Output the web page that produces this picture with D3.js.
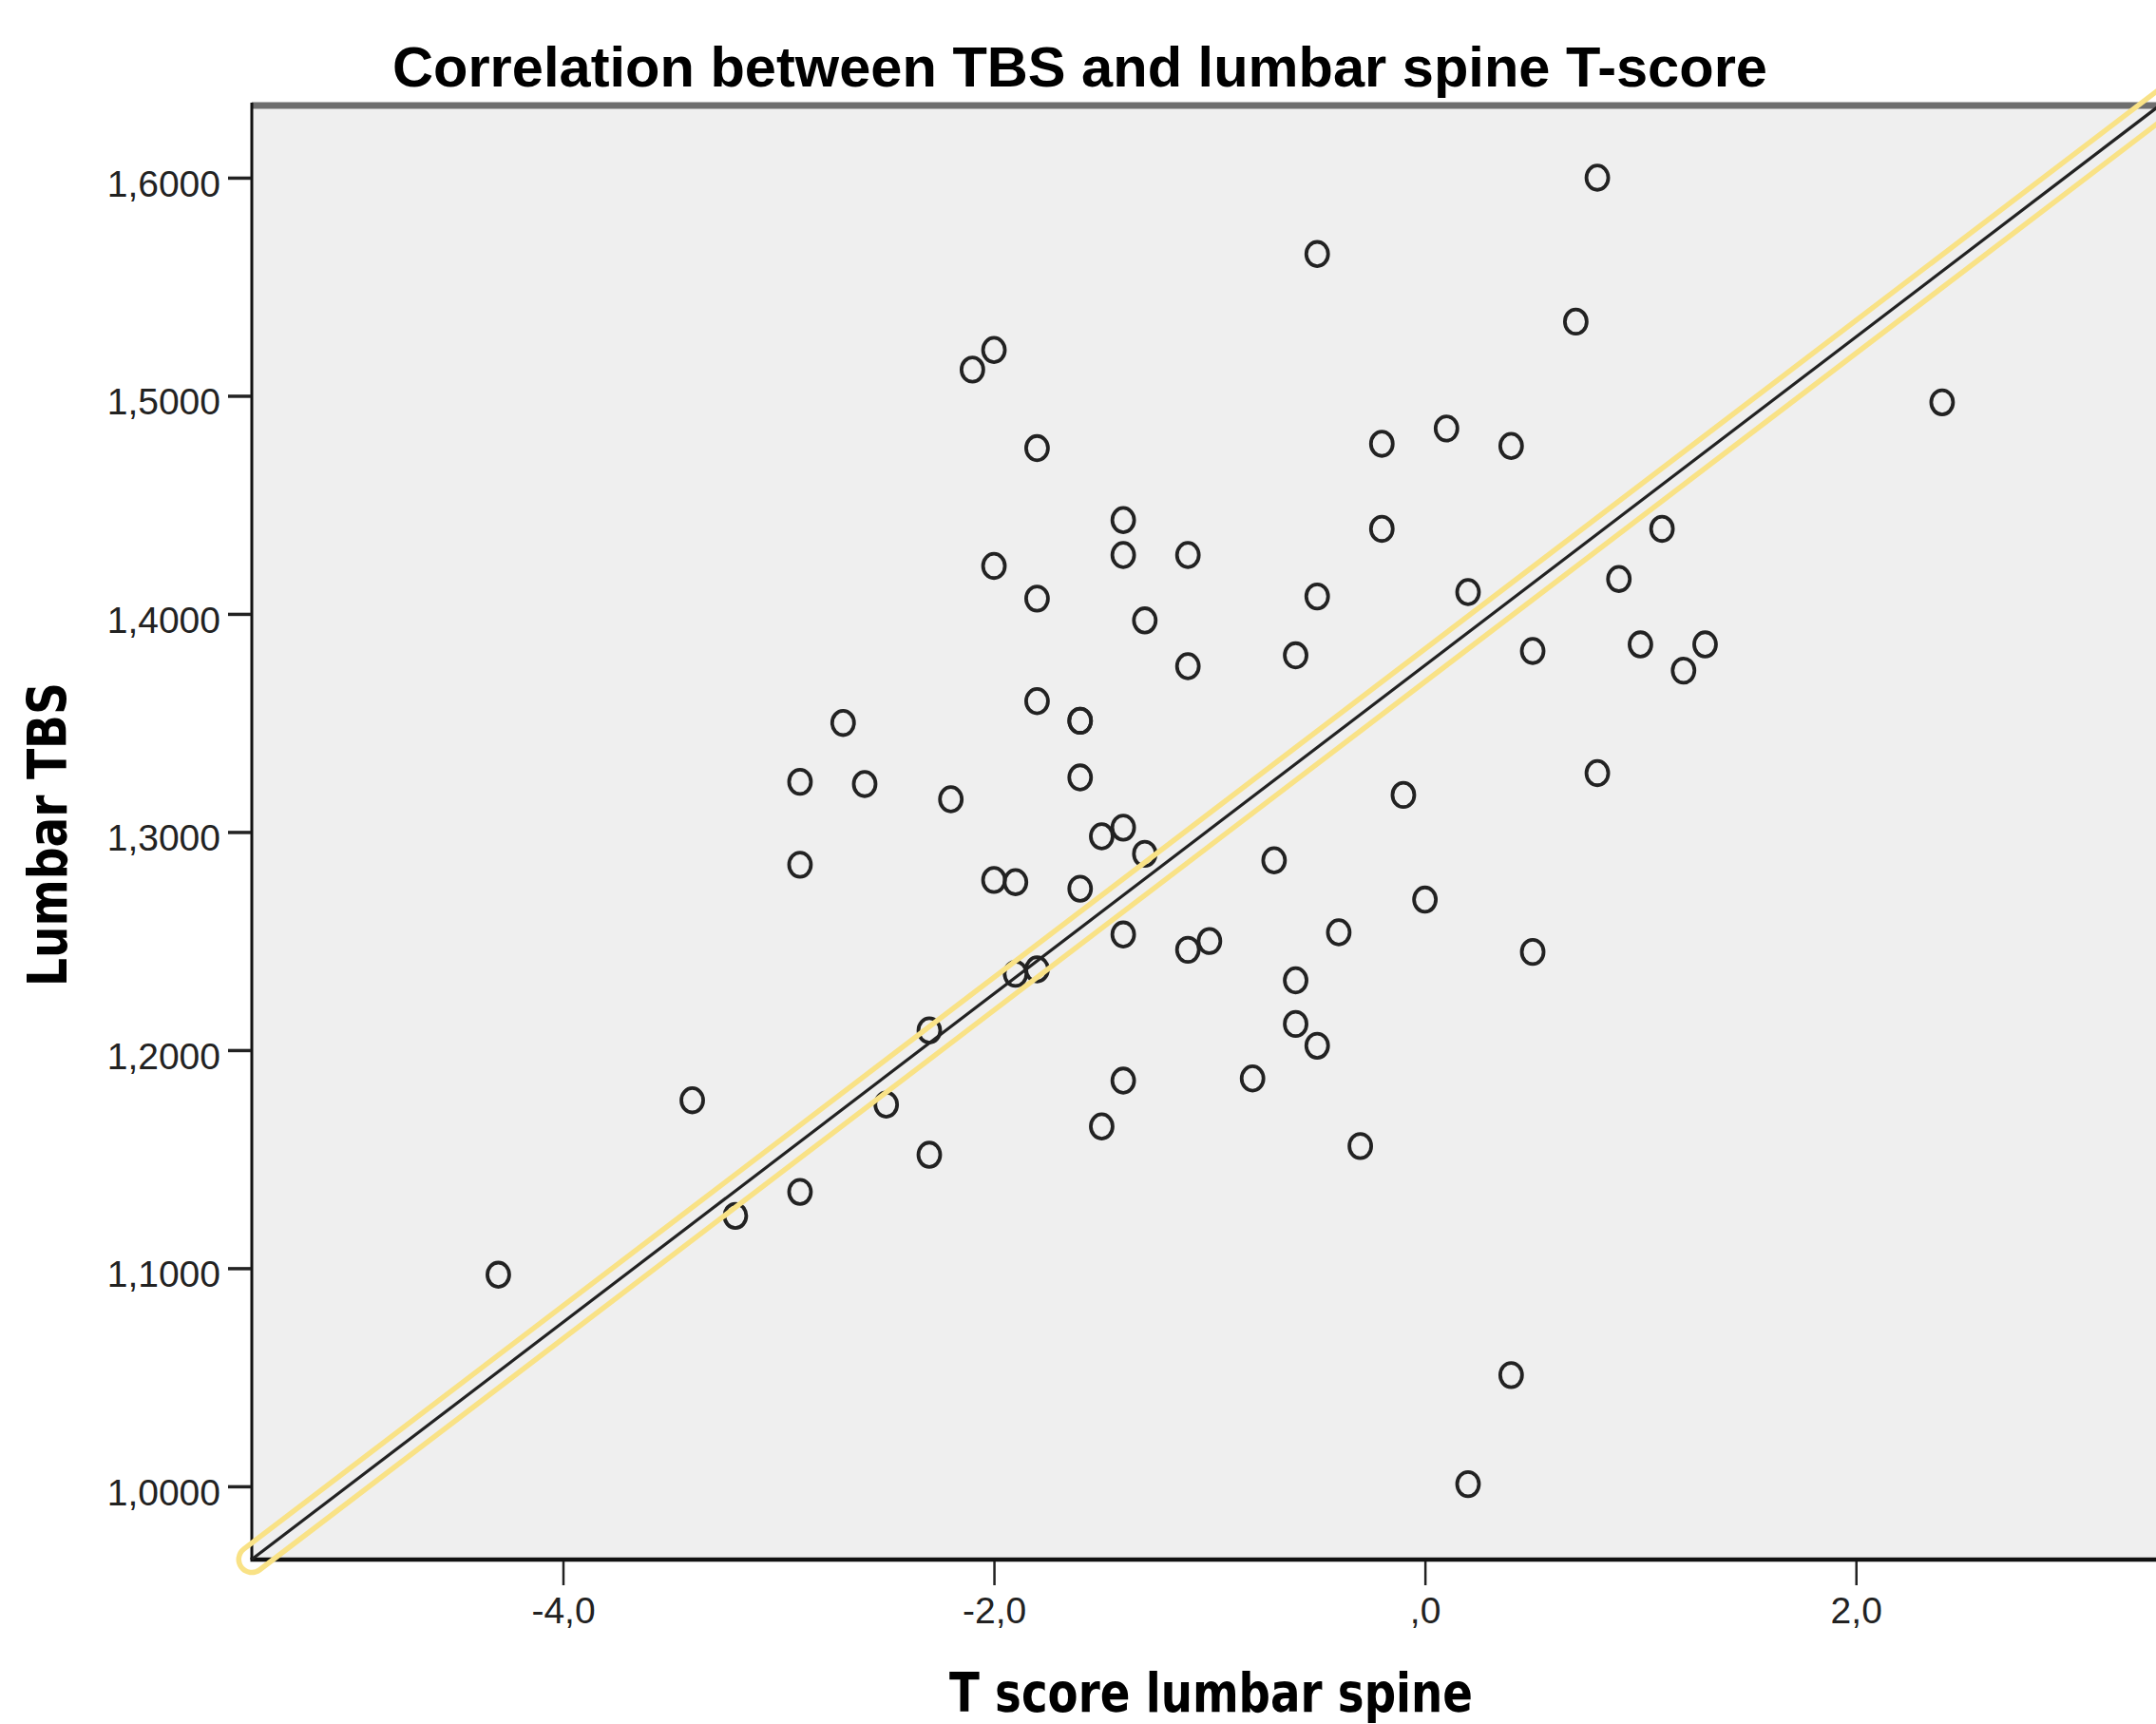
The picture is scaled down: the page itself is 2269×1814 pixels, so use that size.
<!DOCTYPE html>
<html lang="en">
<head>
<meta charset="utf-8">
<title>Correlation between TBS and lumbar spine T-score</title>
<script src="https://cdnjs.cloudflare.com/ajax/libs/d3/7.8.5/d3.min.js"></script>
<style>
  body { margin: 0; background: #fff; }
  svg { display: block; }
  .tick text { font-family: "Liberation Sans", Arial, sans-serif; font-size: 39px; fill: #222; }
  .title { font-family: "Liberation Sans", Arial, sans-serif; font-weight: bold; font-size: 60px; fill: #000; }
  .axTitle { font-family: "DejaVu Sans", sans-serif; font-weight: bold; font-size: 57px; fill: #000; }
</style>
</head>
<body>
<script>
// T score lumbar spine
var tScore = [0.8, -0.5, 0.7, -2.0, -2.1, 2.4, 0.1, -0.2, 0.4, -1.8,
              -1.4, -0.2, 1.1, -1.4, -1.1, -2.0, 0.9, -1.8, -0.5, 0.2,
              -1.3, 1.0, 1.3, 0.5, -0.6, -1.1, 1.2, -1.8, -2.7, -1.6,
              -1.6, 0.8, -1.6, -2.9, -2.6, -2.2, -0.1, -1.4, -1.5, -1.3,
              -0.7, -2.9, -2.0, -1.9, -1.6, 0.0, -0.4, -1.4, -1.0, -1.1,
              0.5, -1.9, -1.8, -0.6, -0.6, -2.3, -0.5, -0.8, -1.4, -3.4,
              -2.5, -1.5, -0.3, -2.3, -2.9, -3.2, -4.3, 0.4, 0.2];
// Lumbar TBS
var tbs = [1.600, 1.565, 1.534, 1.521, 1.512, 1.497, 1.485, 1.478, 1.477, 1.476,
           1.443, 1.439, 1.439, 1.427, 1.427, 1.422, 1.416, 1.407, 1.408, 1.410,
           1.397, 1.386, 1.386, 1.383, 1.381, 1.376, 1.374, 1.360, 1.350, 1.351,
           1.351, 1.327, 1.325, 1.323, 1.322, 1.315, 1.317, 1.302, 1.298, 1.290,
           1.287, 1.285, 1.278, 1.277, 1.274, 1.269, 1.254, 1.253, 1.250, 1.246,
           1.245, 1.235, 1.237, 1.232, 1.212, 1.209, 1.202, 1.187, 1.186, 1.177,
           1.175, 1.165, 1.156, 1.152, 1.135, 1.124, 1.097, 1.051, 1.001];

var xTicks = [-4, -2, 0, 2];
var xTickLabels = ["-4,0", "-2,0", ",0", "2,0"];
var yTicks = [1.0, 1.1, 1.2, 1.3, 1.4, 1.5, 1.6];
var yTickLabels = ["1,0000", "1,1000", "1,2000", "1,3000", "1,4000", "1,5000", "1,6000"];

// linear fit line
var fitIntercept = 1.3764;
var fitSlope = 0.0753;

var W = 2269, H = 1814;
var pLeft = 265, pRight = 2290, pTop = 111, pBottom = 1641;

var x = d3.scaleLinear().domain([-5.444, 3.485]).range([pLeft, pRight]);
var y = d3.scaleLinear().domain([0.9664, 1.6331]).range([pBottom, pTop]);

var svg = d3.select("body").append("svg")
  .attr("width", W).attr("height", H);

// plot background
svg.append("rect")
  .attr("x", pLeft).attr("y", pTop)
  .attr("width", pRight - pLeft).attr("height", pBottom - pTop)
  .attr("fill", "#efefef");

// frame
svg.append("line")
  .attr("x1", pLeft).attr("x2", pRight).attr("y1", pTop).attr("y2", pTop)
  .attr("stroke", "#6e6e6e").attr("stroke-width", 7);
svg.append("line")
  .attr("x1", pLeft).attr("x2", pLeft).attr("y1", pTop - 3).attr("y2", pBottom)
  .attr("stroke", "#111").attr("stroke-width", 3);
svg.append("line")
  .attr("x1", pLeft - 1.5).attr("x2", pRight).attr("y1", pBottom).attr("y2", pBottom)
  .attr("stroke", "#111").attr("stroke-width", 4.5);

// axes
var xAxis = d3.axisBottom(x)
  .tickValues(xTicks)
  .tickSize(25)
  .tickPadding(12)
  .tickFormat(function(d, i) { return xTickLabels[i]; });

var gx = svg.append("g")
  .attr("transform", "translate(0," + (pBottom + 2) + ")")
  .call(xAxis);
gx.select(".domain").remove();
gx.selectAll(".tick line").attr("stroke", "#222").attr("stroke-width", 2.5);
gx.selectAll(".tick text").attr("dy", "0.71em");

var yAxis = d3.axisLeft(y)
  .tickValues(yTicks)
  .tickSize(24)
  .tickPadding(8)
  .tickFormat(function(d, i) { return yTickLabels[i]; });

var gy = svg.append("g")
  .attr("transform", "translate(" + (pLeft - 1) + ",0)")
  .call(yAxis);
gy.select(".domain").remove();
gy.selectAll(".tick line").attr("stroke", "#222").attr("stroke-width", 3.5);
gy.selectAll(".tick text").attr("dy", "0.5em");

// points
svg.append("g").selectAll("ellipse")
  .data(tScore)
  .enter()
  .append("ellipse")
  .attr("cx", function(d) { return x(d); })
  .attr("cy", function(d, i) { return y(tbs[i]); })
  .attr("rx", 11.5)
  .attr("ry", 12.8)
  .attr("fill", "none")
  .attr("stroke", "#222")
  .attr("stroke-width", 3.8);

// fit line with yellow (selection) outline
var xs = x.domain();
var fit = [
  { t: xs[0], v: fitIntercept + fitSlope * xs[0] },
  { t: xs[1], v: fitIntercept + fitSlope * xs[1] }
];
var line = d3.line()
  .x(function(d) { return x(d.t); })
  .y(function(d) { return y(d.v); });

var mask = svg.append("defs").append("mask")
  .attr("id", "ring")
  .attr("maskUnits", "userSpaceOnUse")
  .attr("x", 0).attr("y", 0).attr("width", W).attr("height", H);
mask.append("rect").attr("width", W).attr("height", H).attr("fill", "#fff");
mask.append("path").attr("d", line(fit))
  .attr("fill", "none").attr("stroke", "#000")
  .attr("stroke-width", 22).attr("stroke-linecap", "round");

var fg = svg.append("g");
fg.append("path").attr("d", line(fit))
  .attr("mask", "url(#ring)")
  .attr("fill", "none").attr("stroke", "#f9e286")
  .attr("stroke-width", 33).attr("stroke-linecap", "round");
fg.append("path").attr("d", line(fit))
  .attr("fill", "none").attr("stroke", "#222")
  .attr("stroke-width", 3.2);

// titles
svg.append("text")
  .attr("class", "title")
  .attr("x", 413).attr("y", 91)
  .attr("textLength", 1447).attr("lengthAdjust", "spacingAndGlyphs")
  .text("Correlation between TBS and lumbar spine T-score");

svg.append("text")
  .attr("class", "axTitle")
  .attr("x", 999).attr("y", 1801)
  .attr("font-size", 56)
  .attr("textLength", 551).attr("lengthAdjust", "spacingAndGlyphs")
  .text("T score lumbar spine");

svg.append("text")
  .attr("class", "axTitle")
  .attr("transform", "translate(70,878) rotate(-90)")
  .attr("text-anchor", "middle")
  .attr("font-size", 58)
  .attr("textLength", 320).attr("lengthAdjust", "spacingAndGlyphs")
  .text("Lumbar TBS");
</script>
</body>
</html>
